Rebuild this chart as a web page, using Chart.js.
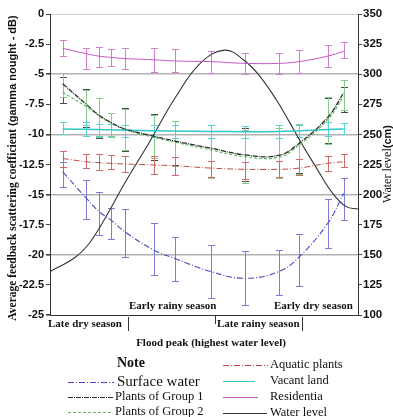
<!DOCTYPE html>
<html>
<head>
<meta charset="utf-8">
<script src="https://cdn.jsdelivr.net/npm/chart.js@4.4.1/dist/chart.umd.min.js"></script>
<style>
  html, body { margin: 0; padding: 0; background: #fff; }
  #wrap { width: 393px; height: 417px; }
</style>
</head>
<body>
<div id="wrap"><canvas id="chart" width="393" height="417"></canvas></div>
<script>
// sampling dates (days from start of the season cycle)
const sampleDays = [15, 43, 58, 72, 89, 123, 148, 191, 231, 271, 295, 329, 348];

// backscatter trend per land cover (dB), with error bar top / bottom
const surfaceWater = [-13.1, -15.3, -16.4, -17.1, -18.1, -19.6, -20.3, -21.4, -21.95, -21.4, -20.2, -17.4, -14.9];
const surfaceHigh  = [-12.3, -13.8, -14.75, -16.1, -16.2, -17.4, -18.5, -19.2, -19.7, -19.6, -18.3, -15.4, -13.6];
const surfaceLow   = [-14.35, -17.0, -18.35, -18.7, -20.2, -21.7, -22.2, -23.6, -24.2, -23.3, -22.6, -19.4, -17.1];

const group1     = [-5.8, -7.5, -8.4, -9.0, -9.55, -10.15, -10.55, -11.15, -11.7, -11.75, -10.75, -8.6, -6.55];
const group1High = [-5.2, -6.2, -7.0, -8.2, -7.8, -8.3, -8.9, -9.2, -9.5, -9.5, -9.1, -7.0, -6.1];
const group1Low  = [-7.4, -9.4, -10.3, -10.1, -11.4, -12.1, -12.5, -13.5, -13.9, -13.5, -13.2, -10.7, -8.1];

const group2     = [-6.5, -7.7, -8.45, -9.05, -9.6, -10.25, -10.65, -11.3, -11.85, -11.9, -10.9, -8.8, -6.85];
const group2High = [-4.9, -6.3, -7.0, -8.2, -7.9, -8.4, -8.9, -9.2, -9.6, -9.5, -9.1, -6.9, -5.5];
const group2Low  = [-6.9, -9.2, -10.2, -10.1, -11.3, -12.0, -12.6, -13.6, -14.0, -13.6, -13.3, -10.8, -8.0];

const aquatic     = [-12.0, -12.27, -12.35, -12.4, -12.46, -12.54, -12.6, -12.8, -12.9, -12.9, -12.8, -12.4, -12.27];
const aquaticHigh = [-11.4, -11.6, -11.6, -11.7, -11.8, -11.8, -11.9, -12.2, -12.27, -12.2, -12.07, -11.8, -11.6];
const aquaticLow  = [-12.7, -12.8, -12.96, -12.9, -13.15, -13.3, -13.4, -13.5, -13.7, -13.5, -13.37, -13.0, -12.7];

const vacant     = [-9.55, -9.58, -9.6, -9.62, -9.65, -9.7, -9.72, -9.76, -9.77, -9.75, -9.7, -9.6, -9.55];
const vacantHigh = [-9.0, -9.0, -9.1, -9.1, -9.2, -9.2, -9.2, -9.2, -9.3, -9.2, -9.2, -9.0, -9.05];
const vacantLow  = [-10.0, -10.1, -10.1, -10.2, -10.2, -10.2, -10.3, -10.3, -10.3, -10.3, -10.2, -10.1, -10.0];

const residential     = [-2.85, -3.3, -3.5, -3.6, -3.7, -3.8, -3.9, -3.96, -4.1, -4.1, -3.96, -3.5, -3.1];
const residentialHigh = [-2.2, -2.8, -2.7, -2.9, -2.8, -2.8, -2.9, -3.1, -3.2, -3.2, -3.0, -2.6, -2.3];
const residentialLow  = [-3.5, -4.6, -4.4, -4.3, -4.6, -4.8, -4.8, -4.9, -5.0, -5.0, -4.9, -4.4, -3.65];

// water level over the same period (cm)
const waterDays  = [0, 30, 47, 65, 89, 119, 148, 178, 207, 231, 249, 268, 284, 296, 315, 335, 351, 365];
const waterLevel = [136, 148, 160, 180, 210, 245, 280, 309, 320, 311, 298, 279, 260, 245, 223, 201, 190, 188];

// axis ticks
const dbTicks = [0, -2.5, -5, -7.5, -10, -12.5, -15, -17.5, -20, -22.5, -25];
const cmTicks = [350, 325, 300, 275, 250, 225, 200, 175, 150, 125, 100];

const SERIF = '"Liberation Serif", "Times New Roman", serif';
const SANS = '"Liberation Sans", Arial, sans-serif';

function pts(xs, ys) {
  return xs.map((x, i) => ({ x: x, y: ys[i] }));
}

function series(label, values, hi, lo, color, barColor, dash, width) {
  return {
    label: label,
    data: pts(sampleDays, values),
    errHi: hi,
    errLo: lo,
    barColor: barColor,
    borderColor: color,
    borderWidth: width || 1,
    borderDash: dash || [],
    pointRadius: 0,
    tension: 0.4,
    fill: false,
    yAxisID: 'y'
  };
}

const datasets = [
  series('Surface water', surfaceWater, surfaceHigh, surfaceLow, '#4848c0', '#7c7cd6', [6, 2, 1, 2], 1.1),
  series('Plants of Group 1', group1, group1High, group1Low, '#2a2a2a', '#4a4a4a', [5, 1, 1, 1], 1.3),
  series('Plants of Group 2', group2, group2High, group2Low, '#5cb85c', '#86cc86', [3, 2], 1.1),
  series('Aquatic plants', aquatic, aquaticHigh, aquaticLow, '#c04848', '#cf6a6a', [6, 2, 1, 2], 1),
  series('Vacant land', vacant, vacantHigh, vacantLow, '#2ec8c8', '#54d4d4', [], 1.5),
  series('Residentia', residential, residentialHigh, residentialLow, '#c456c4', '#d07ed0', [], 1),
  {
    label: 'Water level',
    data: pts(waterDays, waterLevel),
    borderColor: '#333',
    borderWidth: 1.1,
    pointRadius: 0,
    tension: 0.4,
    fill: false,
    yAxisID: 'y1'
  }
];

// vertical error bars with caps, drawn under the trend lines
const errorBars = {
  id: 'errorBars',
  beforeDatasetsDraw(chart) {
    const ctx = chart.ctx;
    const xs = chart.scales.x;
    const ys = chart.scales.y;
    ctx.save();
    ctx.lineWidth = 1;
    chart.data.datasets.forEach(ds => {
      if (!ds.errHi) return;
      ctx.strokeStyle = ds.barColor;
      ds.errHi.forEach((hi, i) => {
        const x = Math.round(xs.getPixelForValue(sampleDays[i])) + 0.5;
        const y1 = Math.round(ys.getPixelForValue(hi)) + 0.5;
        const y2 = Math.round(ys.getPixelForValue(ds.errLo[i])) + 0.5;
        ctx.beginPath();
        ctx.moveTo(x, y1); ctx.lineTo(x, y2);
        ctx.moveTo(x - 3.5, y1); ctx.lineTo(x + 3.5, y1);
        ctx.moveTo(x - 3.5, y2); ctx.lineTo(x + 3.5, y2);
        ctx.stroke();
      });
    });
    ctx.restore();
  }
};

function drawRotated(ctx, cx, cy, parts) {
  ctx.save();
  ctx.translate(cx, cy);
  ctx.rotate(-Math.PI / 2);
  ctx.textBaseline = 'middle';
  ctx.textAlign = 'left';
  let total = 0;
  parts.forEach(p => { ctx.font = p.font; p.w = ctx.measureText(p.text).width; total += p.w; });
  let x = -total / 2;
  parts.forEach(p => {
    ctx.font = p.font;
    ctx.fillStyle = '#111';
    ctx.fillText(p.text, x, 0);
    x += p.w;
  });
  ctx.restore();
}

// axis titles, season notes and the two-column legend
const decorations = {
  id: 'decorations',
  afterDraw(chart) {
    const ctx = chart.ctx;
    const a = chart.chartArea;
    ctx.save();

    // bottom axis line
    ctx.strokeStyle = '#333';
    ctx.lineWidth = 1;
    ctx.beginPath();
    ctx.moveTo(a.left, Math.round(a.bottom) + 0.5);
    ctx.lineTo(a.right, Math.round(a.bottom) + 0.5);
    // season dividers
    ctx.moveTo(128.5, 317); ctx.lineTo(128.5, 331);
    ctx.moveTo(215.5, 316); ctx.lineTo(215.5, 324);
    ctx.moveTo(302.5, 317); ctx.lineTo(302.5, 331);
    ctx.stroke();

    drawRotated(ctx, 13, 168, [
      { text: 'Average feedback scattering coefficient', font: 'bold 11.5px ' + SERIF },
      { text: ' (gamma nought - dB)', font: 'bold 11px ' + SANS }
    ]);
    drawRotated(ctx, 388, 164, [
      { text: 'Water level', font: '12px ' + SERIF },
      { text: '(cm)', font: 'bold 11px ' + SANS }
    ]);

    ctx.fillStyle = '#111';
    ctx.textBaseline = 'middle';
    ctx.font = 'bold 11px ' + SERIF;
    ctx.textAlign = 'left';
    ctx.fillText('Early rainy season', 129, 306);
    ctx.fillText('Early dry season', 274, 306);
    ctx.fillText('Late dry season', 48, 324);
    ctx.fillText('Late rainy season', 217, 324);
    ctx.textAlign = 'center';
    ctx.fillText('Flood peak (highest water level)', 211, 343);

    ctx.textAlign = 'left';
    ctx.font = 'bold 14px ' + SERIF;
    ctx.fillText('Note', 117, 363);

    const slots = [
      { x0: 68, x1: 114, tx: 117, y: 382, size: 15 },
      { x0: 68, x1: 114, tx: 115, y: 397, size: 12.5 },
      { x0: 68, x1: 112, tx: 115, y: 412, size: 12.5 },
      { x0: 223, x1: 268, tx: 270, y: 365, size: 12.5 },
      { x0: 223, x1: 255, tx: 270, y: 381, size: 12.5 },
      { x0: 223, x1: 258, tx: 270, y: 397, size: 12.5 },
      { x0: 223, x1: 267, tx: 270, y: 413, size: 12.5 }
    ];
    chart.data.datasets.forEach((ds, i) => {
      const s = slots[i];
      ctx.save();
      ctx.strokeStyle = ds.borderColor;
      ctx.lineWidth = 1;
      ctx.setLineDash(ds.borderDash || []);
      ctx.beginPath();
      ctx.moveTo(s.x0, s.y + 0.5);
      ctx.lineTo(s.x1, s.y + 0.5);
      ctx.stroke();
      ctx.restore();
      ctx.fillStyle = '#111';
      ctx.font = s.size + 'px ' + SERIF;
      ctx.fillText(ds.label, s.tx, s.y);
    });
    ctx.restore();
  }
};

new Chart(document.getElementById('chart').getContext('2d'), {
  type: 'line',
  data: { datasets: datasets },
  plugins: [errorBars, decorations],
  options: {
    responsive: false,
    animation: false,
    devicePixelRatio: 1,
    layout: { padding: { top: 14, bottom: 102, left: 0, right: 0 } },
    plugins: { legend: { display: false }, tooltip: { enabled: false } },
    scales: {
      x: { type: 'linear', min: 0, max: 365, display: false },
      y: {
        position: 'left',
        min: -25,
        max: 0,
        afterBuildTicks: s => { s.ticks = dbTicks.map(v => ({ value: v })); },
        afterFit: s => { s.width = 50; },
        ticks: {
          color: '#111',
          padding: 2,
          font: { family: SANS, size: 11, weight: 'bold' },
          callback: v => String(v)
        },
        grid: {
          color: c => {
            const v = c.tick.value;
            if (v === 0) return '#cfcfcf';
            if (v === -25) return 'rgba(0,0,0,0)';
            return v % 5 === 0 ? '#b2b2b2' : 'rgba(0,0,0,0)';
          },
          lineWidth: c => (c.tick.value % 5 === 0 && c.tick.value !== 0 ? 1.6 : 1),
          tickColor: '#444',
          tickLength: 4
        },
        border: { color: '#333', width: 1 }
      },
      y1: {
        position: 'right',
        min: 100,
        max: 350,
        afterBuildTicks: s => { s.ticks = cmTicks.map(v => ({ value: v })); },
        afterFit: s => { s.width = 35; },
        ticks: {
          color: '#111',
          padding: 1,
          font: { family: SANS, size: 11.5, weight: 'bold' }
        },
        grid: { drawOnChartArea: false, tickColor: '#444', tickLength: 4 },
        border: { color: '#333', width: 1 }
      }
    }
  }
});
</script>
</body>
</html>
